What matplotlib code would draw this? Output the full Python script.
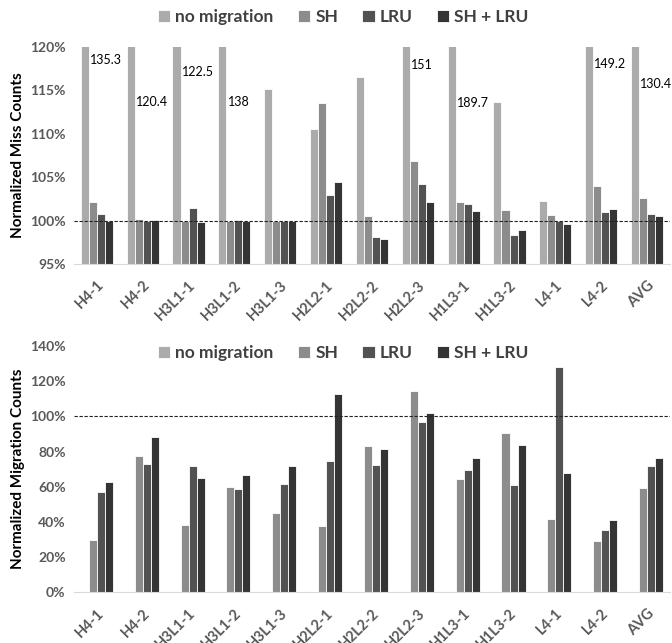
import matplotlib
matplotlib.use("Agg")
import matplotlib.pyplot as plt
import numpy as np

plt.rcParams['font.family'] = ['Lato', 'DejaVu Sans']

# benchmarks
categories = ["H4-1", "H4-2", "H3L1-1", "H3L1-2", "H3L1-3", "H2L2-1", "H2L2-2",
              "H2L2-3", "H1L3-1", "H1L3-2", "L4-1", "L4-2", "AVG"]
series_names = ["no migration", "SH", "LRU", "SH + LRU"]

# normalized miss counts (%)
miss_nomig = [135.3, 120.4, 122.5, 138.0, 115.2, 110.6, 116.5, 151.0, 189.7, 113.7, 102.3, 149.2, 130.4]
miss_sh = [102.2, 100.2, 100.0, 100.0, 100.0, 113.5, 100.5, 106.9, 102.1, 101.25, 100.65, 104.0, 102.6]
miss_lru = [100.8, 100.0, 101.5, 100.1, 99.9, 102.95, 98.15, 104.2, 101.9, 98.4, 99.95, 101.0, 100.75]
miss_shlru = [100.0, 100.1, 99.8, 99.9, 100.0, 104.5, 97.9, 102.2, 101.1, 98.9, 99.6, 101.3, 100.5]

# normalized migration counts (%) - no migration has none
mig_nomig = [0] * 13
mig_sh = [29.6, 77.4, 38.3, 60.0, 44.9, 37.6, 83.0, 114.6, 64.2, 90.4, 41.9, 29.1, 59.1]
mig_lru = [57.2, 73.1, 72.0, 58.9, 61.7, 74.8, 72.3, 97.0, 69.5, 60.8, 128.2, 35.3, 71.7]
mig_shlru = [62.7, 88.0, 64.9, 66.9, 71.6, 112.7, 81.6, 102.0, 76.1, 83.8, 68.0, 41.1, 76.5]

colors = ["#ababab", "#8c8c8c", "#525252", "#343434"]
label_y = [118.5, 113.7, 117.1, 113.7, None, None, None, 117.9, 113.5, None, None, 118.0, 115.7]

fig = plt.figure(figsize=(6.72, 6.43), dpi=100)
ax1 = fig.add_axes([0.110, 0.5894, 0.887, 0.3375])
ax2 = fig.add_axes([0.110, 0.0789, 0.887, 0.3830])

x = np.arange(len(categories))
pitch = 0.175


def draw(ax, data, ylim, yticks, ylabel, leg_y):
    for k, vals in enumerate(data):
        ax.bar(x + (k - 1.5) * pitch, vals, width=pitch, color=colors[k],
               edgecolor="white", linewidth=0.6, label=series_names[k])
    ax.set_xlim(-0.5, len(categories) - 0.5)
    ax.set_ylim(*ylim)
    ax.set_yticks(yticks)
    ax.set_yticklabels([f"{t}%" for t in yticks], color="#595959", fontsize=10, fontweight="bold")
    ax.set_xticks(x)
    ax.set_xticklabels(categories, rotation=45, ha="right", rotation_mode="anchor",
                       color="#595959", fontsize=10.5, fontweight="bold")
    ax.tick_params(length=0, pad=6)
    ax.tick_params(axis="x", pad=10)
    for s in ["top", "right", "left"]:
        ax.spines[s].set_visible(False)
    ax.spines["bottom"].set_color("#d9d9d9")
    ax.axhline(100, color="#222222", linestyle=(0, (3, 1.5)), linewidth=0.8, zorder=3)
    ax.set_ylabel(ylabel, fontsize=11, fontweight="bold", color="black")
    ax.yaxis.set_label_coords(-0.082, 0.5)
    leg = ax.legend(ncol=4, loc="center", bbox_to_anchor=(0.452, leg_y), frameon=False,
                    handlelength=0.7, handleheight=0.7, handletextpad=0.3,
                    columnspacing=1.4, prop={"size": 12.5, "weight": "bold"})
    for t in leg.get_texts():
        t.set_color("#404040")
    return leg


draw(ax1, [miss_nomig, miss_sh, miss_lru, miss_shlru], (95, 120),
     [95, 100, 105, 110, 115, 120], "Normalized Miss Counts", 1.138)
draw(ax2, [mig_nomig, mig_sh, mig_lru, mig_shlru], (0, 140),
     [0, 20, 40, 60, 80, 100, 120, 140], "Normalized Migration Counts", 0.972)

# labels for bars clipped above 120%
for i, v in enumerate(miss_nomig):
    if v > 120 and label_y[i] is not None:
        txt = f"{v:g}"
        ax1.text(i - 1.5 * pitch + pitch / 2 + 0.025, label_y[i], txt, fontsize=9,
                 color="black", ha="left", va="center")

fig.savefig("out.png", dpi=100)
